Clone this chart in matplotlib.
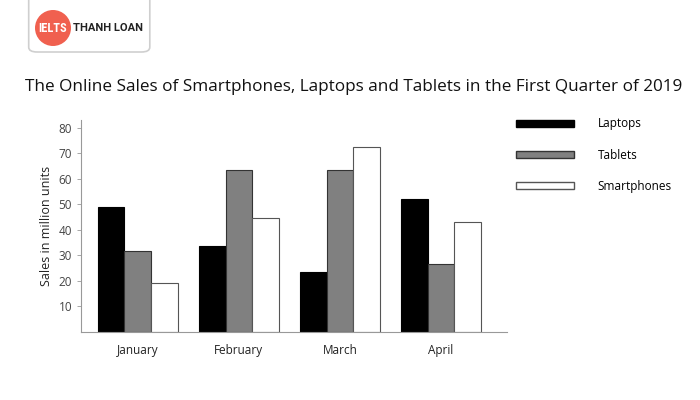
import numpy as np
import matplotlib.pyplot as plt
from matplotlib.patches import Patch, FancyBboxPatch, Circle

months = ["January", "February", "March", "April"]
laptops = [49, 33.5, 23.5, 52]
tablets = [31.5, 63.5, 63.5, 26.5]
smartphones = [19, 44.5, 72.5, 43]
yticks = [10, 20, 30, 40, 50, 60, 70, 80]

plt.rcParams["font.family"] = ["Open Sans", "DejaVu Sans"]

fig = plt.figure(figsize=(7, 4), dpi=100)
ax = fig.add_axes([0.116, 0.171, 0.608, 0.529])

x = np.arange(len(months))
w = 0.265
ax.bar(x - w, laptops, w, color="black", edgecolor="black", lw=0.8)
ax.bar(x, tablets, w, color="#808080", edgecolor="#333333", lw=0.8)
ax.bar(x + w, smartphones, w, color="white", edgecolor="#555555", lw=0.8)

ax.set_xlim(-0.56, 3.65)
ax.set_ylim(0, 83)
ax.set_yticks(yticks)
ax.set_xticks(x)
ax.set_xticklabels(months)
ax.tick_params(axis="x", length=0, pad=9, labelsize=8.5, colors="#222222")
ax.tick_params(axis="y", length=3, width=0.6, color="#999999", labelsize=8.5, labelcolor="#444444")
for s in ["top", "right"]:
    ax.spines[s].set_visible(False)
ax.spines["left"].set_color("#999999")
ax.spines["bottom"].set_color("#999999")
ax.set_ylabel("Sales in million units", fontsize=9, color="#222222", labelpad=4)

fig.text(0.505, 0.782, "The Online Sales of Smartphones, Laptops and Tablets in the First Quarter of 2019",
         ha="center", va="center", fontsize=12.3, color="#111111")

handles = [
    Patch(facecolor="black", edgecolor="black"),
    Patch(facecolor="#808080", edgecolor="#333333"),
    Patch(facecolor="white", edgecolor="#555555"),
]
fig.legend(handles, ["Laptops", "Tablets", "Smartphones"], loc="upper left",
           bbox_to_anchor=(0.722, 0.733), frameon=False, fontsize=8.5,
           handlelength=4.9, handleheight=0.55, labelspacing=1.55, handletextpad=2.0)

# logo
box = FancyBboxPatch((0.041, 0.87), 0.173, 0.15, boxstyle="round,pad=0,rounding_size=0.012",
                     transform=fig.transFigure, facecolor="white", edgecolor="#cfcfcf",
                     lw=1.2, zorder=5)
fig.add_artist(box)
circ = Circle((53, 372), 18, transform=None, facecolor="#f0604f", edgecolor="none", zorder=6)
fig.add_artist(circ)
fig.text(0.0745, 0.93, "IELTS", ha="center", va="center", fontsize=8.8, fontweight="bold",
         color="white", zorder=7, family=["Roboto Condensed", "Roboto", "DejaVu Sans"])
fig.text(0.154, 0.93, "THANH LOAN", ha="center", va="center", fontsize=8.0, fontweight="bold",
         color="#222222", zorder=7, family=["Roboto", "DejaVu Sans"])

fig.savefig("out.png", dpi=100)
